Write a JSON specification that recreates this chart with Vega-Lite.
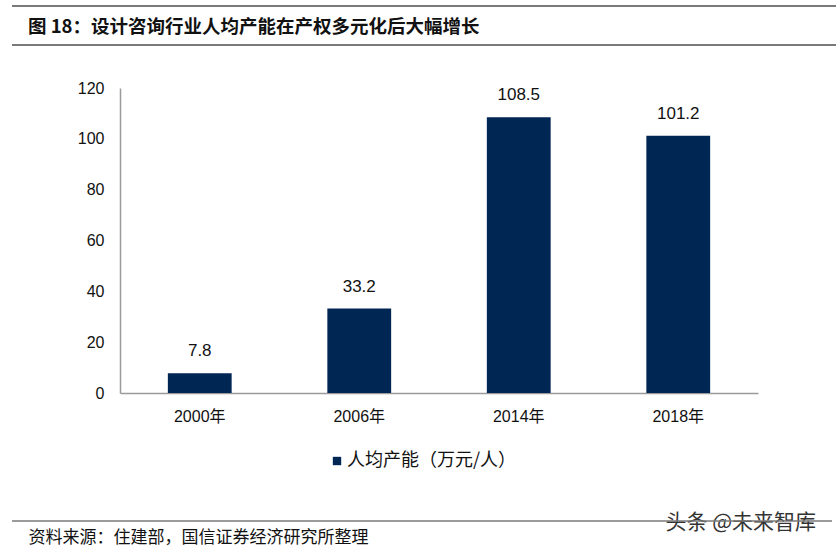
{
  "$schema": "https://vega.github.io/schema/vega-lite/v6.json",
  "width": 638,
  "height": 305,
  "autosize": "none",
  "padding": {"left": 120, "top": 88, "right": 78, "bottom": 162},
  "background": "white",
  "title": {
    "text": "图 18：设计咨询行业人均产能在产权多元化后大幅增长",
    "anchor": "start",
    "frame": "group",
    "dx": -92,
    "offset": -40,
    "baseline": "middle",
    "font": "Noto Sans CJK SC",
    "fontSize": 18.5,
    "fontWeight": "bold",
    "color": "#111111"
  },
  "config": {
    "view": {"stroke": null},
    "font": "Liberation Sans, Noto Sans CJK SC",
    "axis": {
      "grid": false,
      "ticks": false,
      "domainColor": "#9a9a9a",
      "domainWidth": 1.5,
      "labelColor": "#111111",
      "labelFontSize": 16,
      "labelFont": "Liberation Sans, Noto Sans CJK SC"
    }
  },
  "data": {
    "values": [
      {"year": "2000年", "value": 7.8},
      {"year": "2006年", "value": 33.2},
      {"year": "2014年", "value": 108.5},
      {"year": "2018年", "value": 101.2}
    ]
  },
  "encoding": {
    "x": {
      "field": "year",
      "type": "nominal",
      "sort": null,
      "scale": {"paddingInner": 0.6, "paddingOuter": 0.3},
      "axis": {
        "labelAngle": 0,
        "labelPadding": 15,
        "title": "资料来源：住建部，国信证券经济研究所整理",
        "titleX": -92,
        "titleY": 144,
        "titleAlign": "left",
        "titleBaseline": "middle",
        "titleFont": "Noto Sans CJK SC",
        "titleFontSize": 17,
        "titleFontWeight": "normal",
        "titleColor": "#111111"
      }
    },
    "y": {
      "field": "value",
      "type": "quantitative",
      "scale": {"domain": [0, 120]},
      "axis": {
        "values": [0, 20, 40, 60, 80, 100, 120],
        "labelPadding": 16,
        "title": "头条 @未来智库",
        "titleAngle": 0,
        "titleX": 545,
        "titleY": 434,
        "titleAlign": "left",
        "titleBaseline": "middle",
        "titleFont": "Noto Sans CJK SC",
        "titleFontSize": 21,
        "titleFontWeight": "normal",
        "titleColor": "#333333"
      }
    }
  },
  "layer": [
    {
      "mark": {"type": "bar", "color": "#002654"},
      "encoding": {
        "color": {
          "datum": "人均产能（万元/人）",
          "type": "nominal",
          "scale": {"range": ["#002654"]},
          "legend": {
            "title": null,
            "orient": "none",
            "legendX": 208,
            "legendY": 364,
            "symbolType": "square",
            "symbolSize": 70,
            "labelFont": "Noto Sans CJK SC",
            "labelFontSize": 18,
            "labelLimit": 400,
            "labelColor": "#111111",
            "labelOffset": 1
          }
        }
      }
    },
    {
      "mark": {
        "type": "text",
        "dy": -22,
        "baseline": "middle",
        "fontSize": 17,
        "color": "#111111",
        "font": "Liberation Sans"
      },
      "encoding": {
        "text": {"field": "value", "type": "quantitative", "format": ".1f"}
      }
    },
    {
      "data": {"values": [{}]},
      "mark": {"type": "rule", "color": "#7a7a7a", "strokeWidth": 2},
      "encoding": {
        "x": {"value": -108},
        "x2": {"value": 716},
        "y": {"value": -82},
        "y2": {"value": -82}
      }
    },
    {
      "data": {"values": [{}]},
      "mark": {"type": "rule", "color": "#7a7a7a", "strokeWidth": 2},
      "encoding": {
        "x": {"value": -108},
        "x2": {"value": 716},
        "y": {"value": -43},
        "y2": {"value": -43}
      }
    },
    {
      "data": {"values": [{}]},
      "mark": {"type": "rule", "color": "#7a7a7a", "strokeWidth": 1.5},
      "encoding": {
        "x": {"value": -108},
        "x2": {"value": 712},
        "y": {"value": 433},
        "y2": {"value": 433}
      }
    }
  ]
}
